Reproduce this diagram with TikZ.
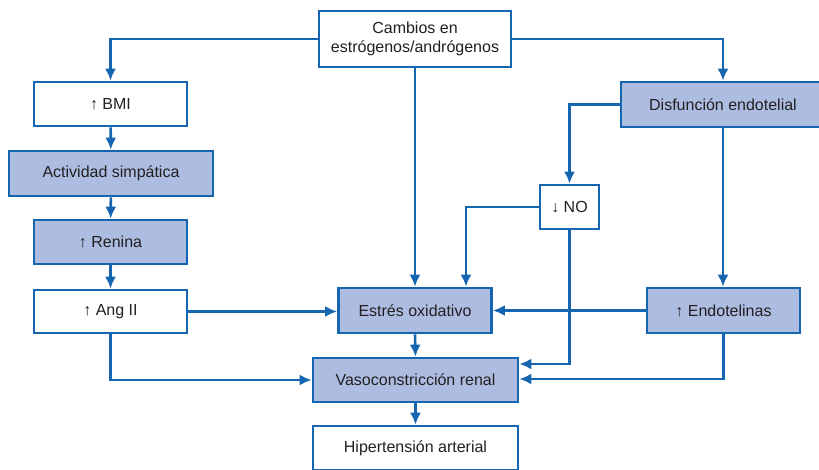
\documentclass[tikz,border=0pt]{standalone}
\usepackage{fontspec}
\setmainfont{Liberation Sans}
\usetikzlibrary{arrows.meta}
\definecolor{lineblue}{RGB}{21,101,176}
\definecolor{fillblue}{RGB}{173,189,225}
\definecolor{txt}{RGB}{35,31,32}
\tikzset{
  box/.style={draw=lineblue, line width=2.7pt, fill=white, text=txt, inner sep=0pt,
    font=\fontsize{16}{18.5}\selectfont, align=center},
  hbox/.style={box, fill=fillblue},
  conn/.style={draw=lineblue, line width=2.6pt, -{Latex[length=12pt,width=11pt]}},
}
\begin{document}
\begin{tikzpicture}[x=1pt,y=-1pt]
\useasboundingbox (0,0) rectangle (819,469);
\clip (0,0) rectangle (819,469);
\node[box, minimum width=192pt, minimum height=56pt] (cam) at (415,39) {Cambios en\\estrógenos/andrógenos};
\node[box, minimum width=153pt, minimum height=44pt] (bmi) at (110.5,104) {↑ BMI};
\node[hbox, minimum width=204pt, minimum height=45pt] (act) at (111,173.5) {Actividad simpática};
\node[hbox, minimum width=153pt, minimum height=44pt] (ren) at (110.5,242) {↑ Renina};
\node[box, minimum width=153pt, minimum height=43pt] (ang) at (110.5,311.5) {↑ Ang II};
\node[hbox, minimum width=153pt, minimum height=45pt] (est) at (415,310.5) {Estrés oxidativo};
\node[hbox, minimum width=205pt, minimum height=44pt] (vas) at (415.5,380) {Vasoconstricción renal};
\node[box, minimum width=205pt, minimum height=44pt] (hip) at (415.5,448) {Hipertensión arterial};
\node[hbox, minimum width=204pt, minimum height=45pt] (dis) at (723,104.5) {Disfunción endotelial};
\node[box, minimum width=59pt, minimum height=44pt] (no) at (569.5,207) {↓ NO};
\node[hbox, minimum width=153pt, minimum height=45pt] (end) at (723.5,310.5) {↑ Endotelinas};

\draw[conn] (cam.west) -| (bmi.north);
\draw[conn] (cam.east) -| (dis.north);
\draw[conn] (cam.south) -- (est.north);
\draw[conn] (bmi) -- (act);
\draw[conn] (act) -- (ren);
\draw[conn] (ren) -- (ang);
\draw[conn] (ang.east) -- (ang.east -| est.west);
\draw[conn] (end.west) -- (end.west -| est.east);
\draw[conn] (ang.south) |- (vas.west);
\draw[conn] (est.south) -- (vas.north);
\draw[conn] (vas.south) -- (hip.north);
\draw[conn] (dis.west) -| (no.north);
\draw[conn] (no.west) -| ([xshift=51pt]est.north);
\draw[conn] (no.south) |- ([yshift=16pt]vas.east);
\draw[conn] (dis.south) -- (dis.south |- end.north);
\draw[conn] (end.south) |- ([yshift=1pt]vas.east);
\end{tikzpicture}
\end{document}
